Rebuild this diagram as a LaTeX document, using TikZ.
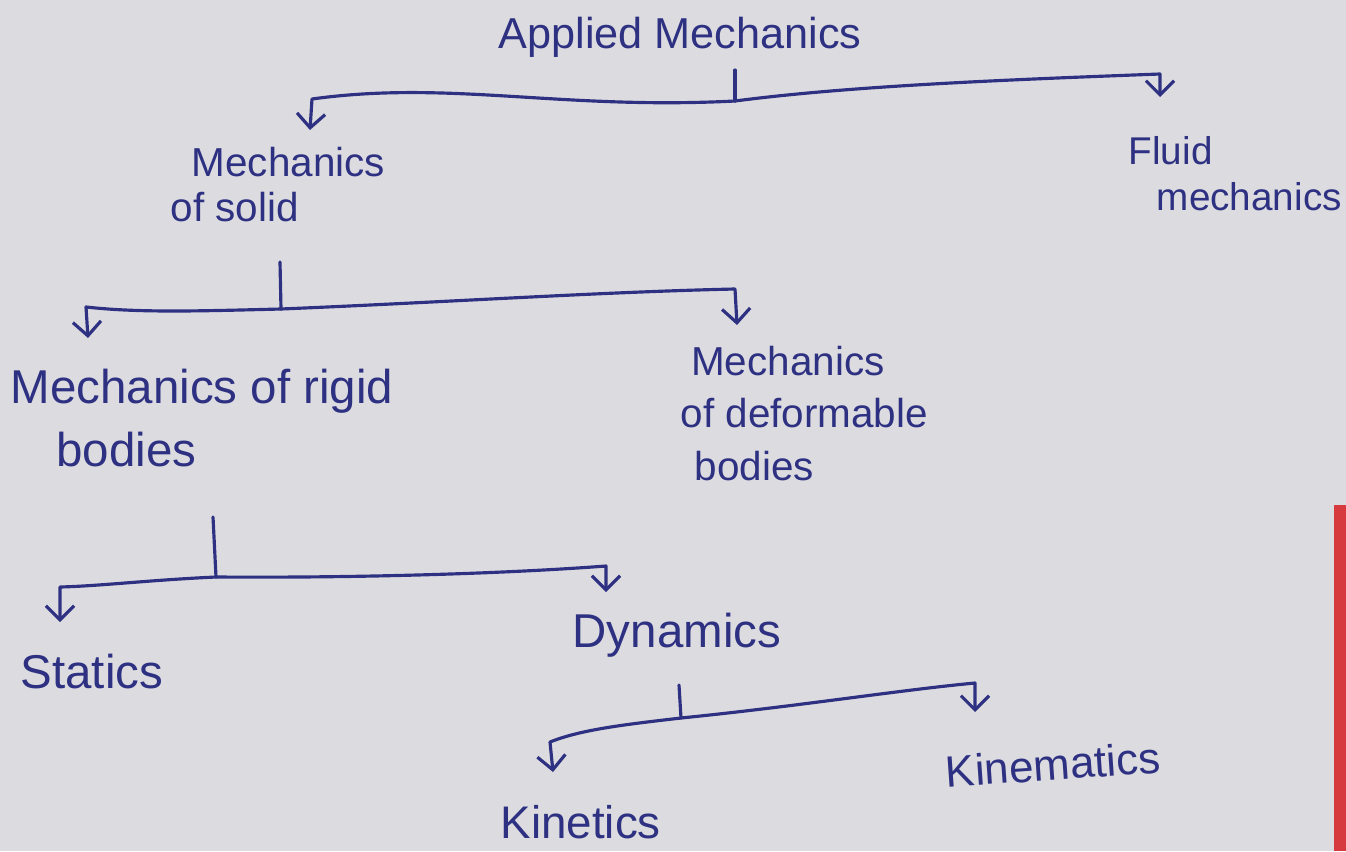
\documentclass[tikz,border=0pt]{standalone}
\usepackage{fontspec}
\setmainfont{Liberation Sans}
\usetikzlibrary{arrows.meta}
\definecolor{ink}{HTML}{2E3182}
\definecolor{paper}{HTML}{DCDCE0}
\definecolor{pen}{HTML}{D63A3E}

\begin{document}
\begin{tikzpicture}[x=0.01cm,y=-0.01cm]
\tikzstyle{term}=[inner sep=0pt,text=ink,font=\fontsize{13}{15}\selectfont,align=left]
\tikzstyle{link}=[draw=ink,line width=0.9pt,line cap=round,line join=round,>={Straight Barb[length=4pt,width=8pt]}]
\fill[paper] (0,0) rectangle (1346,851);
\useasboundingbox (0,0) rectangle (1346,851);
\fill[pen] (1334,505) rectangle (1346,851);

% terms
\node[term,font=\fontsize{12.3}{15}\selectfont] (am) at (680,37) {Applied Mechanics};
\node[term,anchor=north west,font=\fontsize{11.5}{14}\selectfont] (ms) at (170,146) {\hspace{6pt}Mechanics\\[-1pt]of solid};
\node[term,anchor=north west,font=\fontsize{11}{13}\selectfont] (fm) at (1128,136) {Fluid\\\hspace{8pt}mechanics};
\node[term,anchor=north west,font=\fontsize{13.5}{16}\selectfont] (rb) at (10,368) {Mechanics of rigid\\[2pt]\hspace{13pt}bodies};
\node[term,anchor=north west,font=\fontsize{11.5}{14}\selectfont] (db) at (680,345) {\hspace{3pt}Mechanics\\[1pt]of deformable\\[1pt]\hspace{4pt}bodies};
\node[term,anchor=west,font=\fontsize{13.5}{16}\selectfont] (st) at (20,672) {Statics};
\node[term,anchor=west,font=\fontsize{13.5}{16}\selectfont] (dy) at (572,635) {Dynamics};
\node[term,anchor=west] (kt) at (500,822) {Kinetics};
\node[term,anchor=west,font=\fontsize{12.5}{15}\selectfont,rotate=4] (km) at (945,772) {Kinematics};

% Applied Mechanics -> solid, fluid
\coordinate (s1) at (735,70);
\coordinate (j1) at (735,101);
\coordinate (l1) at (312,99);
\coordinate (r1) at (1160,74);
\coordinate (a1l) at (310,130);
\coordinate (a1r) at (1160,97);
\draw[link] (s1) -- (j1);
\draw[link,->] (j1) .. controls (560,110) and (450,80) .. (l1) -- (a1l);
\draw[link,->] (j1) .. controls (850,86) and (1000,80) .. (r1) -- (a1r);

% solid -> rigid, deformable
\coordinate (s2) at (280,262);
\coordinate (j2) at (281,309);
\coordinate (l2) at (86,307);
\coordinate (r2) at (735,289);
\coordinate (a2l) at (88,338);
\coordinate (a2r) at (737,325);
\draw[link] (s2) -- (j2);
\draw[link,->] (j2) .. controls (200,311) and (140,313) .. (l2) -- (a2l);
\draw[link,->] (j2) .. controls (450,302) and (600,292) .. (r2) -- (a2r);

% rigid -> statics, dynamics
\coordinate (s3) at (213,517);
\coordinate (j3) at (216,577);
\coordinate (l3) at (60,587);
\coordinate (r3) at (606,566);
\coordinate (a3l) at (60,622);
\coordinate (a3r) at (606,592);
\draw[link] (s3) -- (j3);
\draw[link,->] (j3) .. controls (150,580) and (100,586) .. (l3) -- (a3l);
\draw[link,->] (j3) .. controls (350,578) and (500,574) .. (r3) -- (a3r);

% dynamics -> kinetics, kinematics
\coordinate (s4) at (679,685);
\coordinate (j4) at (681,718);
\coordinate (l4) at (550,742);
\coordinate (r4) at (975,683);
\coordinate (a4l) at (553,772);
\coordinate (a4r) at (975,712);
\draw[link] (s4) -- (j4);
\draw[link,->] (j4) .. controls (620,725) and (580,730) .. (l4) -- (a4l);
\draw[link,->] (j4) .. controls (800,706) and (900,690) .. (r4) -- (a4r);
\end{tikzpicture}
\end{document}
